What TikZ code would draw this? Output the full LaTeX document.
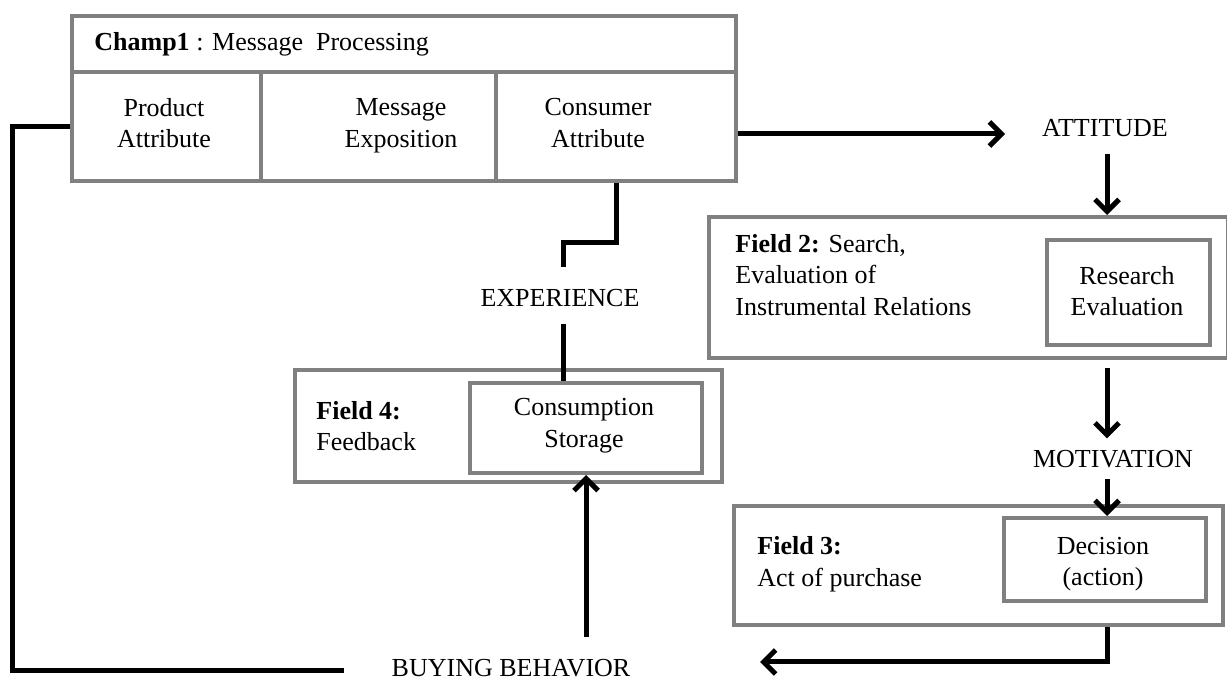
\documentclass[tikz,border=0pt]{standalone}
\usepackage{fontspec}
\setmainfont{Liberation Serif}
\usetikzlibrary{arrows.meta}
\definecolor{framegray}{HTML}{808080}

% one unit = one pixel of a 1227 x 683 canvas, y growing downwards
\newcommand\mkpanel[5]{%
  \node[frame, minimum width={(#4-#2)*0.5pt}, minimum height={(#5-#3)*0.5pt}] (#1) at (#2,#3) {};}

\begin{document}
\begin{tikzpicture}[x=0.5pt, y=-0.5pt,
  frame/.style={draw=framegray, line width=2pt, inner sep=0pt, anchor=north west},
  lbl/.style={font=\fontsize{13}{15.8}\selectfont, inner sep=0pt, align=center},
  lbll/.style={lbl, align=left},
  link/.style={line width=2.5pt},
  arr/.style={link, -{Straight Barb[length=6pt, width=12pt]}}]

\useasboundingbox (0,0) rectangle (1227,683);
\fill[white] (0,0) rectangle (1227,683);

% Field 1: message processing table
\mkpanel{champ}{70}{14}{734}{70}
\mkpanel{pa}{70}{70}{259}{179}
\mkpanel{me}{259}{70}{494}{179}
\mkpanel{ca}{494}{70}{734}{179}
\node[lbl, anchor=base west] (champt) at (94,51) {\textbf{Champ1} : Message\ \ Processing};
\node[lbl] (pat) at (164,123) {Product\\Attribute};
\node[lbl] (met) at (401,126) {Message\\Exposition};
\node[lbl] (cat) at (598,123) {Consumer\\Attribute};

% Field 2
\mkpanel{f2}{707}{215}{1226}{356}
\mkpanel{re}{1045}{238}{1208}{343}
\node[lbll, anchor=west] (f2t) at (735,275) {\textbf{Field 2:} Search,\\Evaluation of\\Instrumental Relations};
\node[lbl] (ret) at (1127,291) {Research\\Evaluation};

% Field 4
\mkpanel{f4}{293}{368}{720}{480}
\mkpanel{cs}{468}{381}{700}{471}
\node[lbll, anchor=west] (f4t) at (316,426) {\textbf{Field 4:}\\Feedback};
\node[lbl] (cst) at (584,426) {Consumption\\Storage};

% Field 3
\mkpanel{f3}{732}{504}{1221}{623}
\mkpanel{dec}{1002}{516}{1204}{599}
\node[lbll, anchor=west] (f3t) at (757,564) {\textbf{Field 3:}\\Act of purchase};
\node[lbl] (dect) at (1103,564) {Decision\\(action)};

% free-standing stage labels
\node[lbl, anchor=base] (att) at (1105,137) {ATTITUDE};
\node[lbl, anchor=base] (exp) at (560,307) {EXPERIENCE};
\node[lbl, anchor=base] (mot) at (1113,468) {MOTIVATION};
\node[lbl, anchor=base] (bb) at (511,677) {BUYING BEHAVIOR};

% connector ends
\coordinate (attin) at (1005,134);
\coordinate (loopcorner) at (12,671);
\coordinate (loopend) at (344,671);
\coordinate (bbin) at (760,662);
\coordinate (bbup) at ([yshift=11pt]bb.north);
\coordinate (rcol) at (1107,0);
\coordinate (expdrop) at (563,267);

% connectors
\draw[arr] (ca.east |- attin) -- (attin);
\draw[link] (pa.west) -| (loopcorner) -- (loopend);
\draw[link] (ca.south) -- ++(0,60) -| (expdrop);
\draw[link] ([yshift=-8pt]exp.south -| expdrop) -- (expdrop |- cs.north);
\draw[arr] (bbup -| cs.south) -- (cs.south);
\draw[arr] ([yshift=-8pt]att.south -| rcol) -- (rcol |- f2.north);
\draw[arr, shorten >=6pt] ([yshift=-4pt]f2.south -| rcol) -- (rcol |- mot.north);
\draw[arr] ([yshift=-5pt]mot.south -| rcol) -- (rcol |- dec.north);
\draw[arr] (f3.south -| rcol) |- (bbin);

\end{tikzpicture}
\end{document}
